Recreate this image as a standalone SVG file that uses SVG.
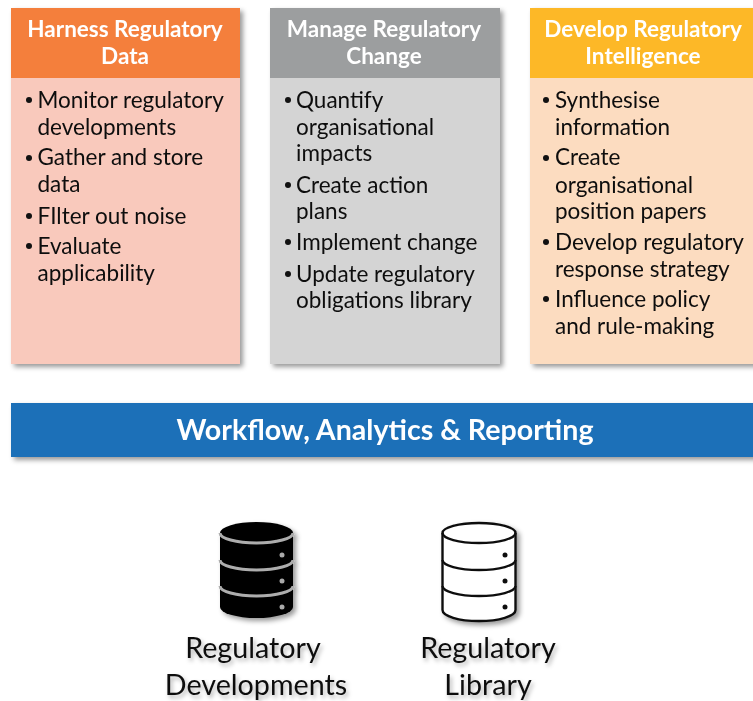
<svg xmlns="http://www.w3.org/2000/svg" width="753" height="701" viewBox="0 0 753 701">
<style>
text{font-family:"Lato","Carlito","Open Sans",sans-serif}
.h{font-size:22.5px;font-weight:700;fill:#fff;text-anchor:middle;filter:url(#soft)}
.b{font-size:22.5px;fill:#0d0d0d;filter:url(#soft)}
.d{fill:#111}
.c{font-size:28.7px;fill:#111;text-anchor:middle;filter:url(#ts)}
.bar{font-size:28.6px;font-weight:700;fill:#fff;text-anchor:middle;filter:url(#soft)}
.o{fill:#fff;stroke:#111;stroke-width:2.4}
</style>
<defs>
<filter id="sh" x="-10%" y="-10%" width="125%" height="125%"><feDropShadow dx="3" dy="3" stdDeviation="2.5" flood-color="#000" flood-opacity=".4"/></filter>
<filter id="ts" x="-10%" y="-20%" width="120%" height="150%"><feGaussianBlur in="SourceGraphic" stdDeviation="0.4" result="s"/><feDropShadow in="s" dx="2" dy="3" stdDeviation="2" flood-color="#000" flood-opacity=".3"/></filter>
<filter id="soft" x="-5%" y="-20%" width="110%" height="140%"><feGaussianBlur stdDeviation="0.4"/></filter>
</defs>
<rect width="753" height="701" fill="#fff"/>
<g id="harness-data">
<rect x="11" y="8" width="229" height="356" fill="#f9c9bc" filter="url(#sh)"/>
<rect x="11" y="8" width="229" height="70" fill="#f47f3c"/>
<text class="h" x="125" y="37">Harness Regulatory</text>
<text class="h" x="125" y="64">Data</text>
<circle class="d" cx="29" cy="100" r="3"/><text class="b" x="37.500" y="108">Monitor regulatory</text>
<text class="b" x="37.500" y="135">developments</text>
<circle class="d" cx="29" cy="158" r="3"/><text class="b" x="37.500" y="165">Gather and store</text>
<text class="b" x="37.500" y="192">data</text>
<circle class="d" cx="29" cy="216" r="3"/><text class="b" x="37.500" y="224">FIlter out noise</text>
<circle class="d" cx="29" cy="246" r="3"/><text class="b" x="37.500" y="254">Evaluate</text>
<text class="b" x="37.500" y="281">applicability</text>
</g>
<g id="manage-change">
<rect x="270" y="8" width="230" height="356" fill="#d4d4d4" filter="url(#sh)"/>
<rect x="270" y="8" width="230" height="70" fill="#9c9e9f"/>
<text class="h" x="384" y="37">Manage Regulatory</text>
<text class="h" x="384" y="64">Change</text>
<circle class="d" cx="288" cy="100" r="3"/><text class="b" x="296" y="108">Quantify</text>
<text class="b" x="296" y="135">organisational</text>
<text class="b" x="296" y="161">impacts</text>
<circle class="d" cx="288" cy="185" r="3"/><text class="b" x="296" y="193">Create action</text>
<text class="b" x="296" y="219">plans</text>
<circle class="d" cx="288" cy="242" r="3"/><text class="b" x="296" y="250">Implement change</text>
<circle class="d" cx="288" cy="274" r="3"/><text class="b" x="296" y="282">Update regulatory</text>
<text class="b" x="296" y="308">obligations library</text>
</g>
<g id="develop-intelligence">
<rect x="530" y="8" width="240" height="356" fill="#fcdcc0" filter="url(#sh)"/>
<rect x="530" y="8" width="230" height="70" fill="#fdb827"/>
<text class="h" x="643" y="37">Develop Regulatory</text>
<text class="h" x="643" y="64">Intelligence</text>
<circle class="d" cx="546" cy="100" r="3"/><text class="b" x="555" y="108">Synthesise</text>
<text class="b" x="555" y="135">information</text>
<circle class="d" cx="546" cy="158" r="3"/><text class="b" x="555" y="165">Create</text>
<text class="b" x="555" y="193">organisational</text>
<text class="b" x="555" y="219">position papers</text>
<circle class="d" cx="546" cy="242" r="3"/><text class="b" x="555" y="250">Develop regulatory</text>
<text class="b" x="555" y="277">response strategy</text>
<circle class="d" cx="546" cy="299" r="3"/><text class="b" x="555" y="307">Influence policy</text>
<text class="b" x="555" y="334">and rule-making</text>
</g>
<g id="workflow-bar">
<rect x="11" y="403" width="760" height="54" fill="#1b6fb8" filter="url(#sh)"/>
<text class="bar" x="385" y="440">Workflow, Analytics &amp; Reporting</text>
</g>
<g id="regulatory-developments">
<g filter="url(#sh)">
<path d="M220 533A36.500 11 0 0 1 293 533V607A36.500 11 0 0 1 220 607Z" fill="#000"/>
<path d="M220 533A36.500 10 0 0 0 293 533M220 560A36.500 10 0 0 0 293 560M220 586A36.500 10 0 0 0 293 586" fill="none" stroke="#adadad" stroke-width="3"/>
<circle cx="282" cy="555" r="2.500" fill="#aaa"/><circle cx="282" cy="581" r="2.500" fill="#aaa"/><circle cx="282" cy="607" r="2.500" fill="#aaa"/>
</g>
<text class="c" x="253" y="658">Regulatory</text>
<text class="c" x="256" y="695">Developments</text>
</g>
<g id="regulatory-library">
<g filter="url(#sh)">
<path class="o" d="M442.500 533A36.500 10 0 0 1 515.500 533V610A36.500 11 0 0 1 442.500 610Z"/>
<path d="M442.500 533A36.500 10 0 0 0 515.500 533M442.500 560A36.500 10 0 0 0 515.500 560M442.500 586A36.500 10 0 0 0 515.500 586" fill="none" stroke="#111" stroke-width="2.400"/>
<circle cx="505" cy="555" r="2.500" fill="#111"/><circle cx="505" cy="581" r="2.500" fill="#111"/><circle cx="505" cy="607" r="2.500" fill="#111"/>
</g>
<text class="c" x="488" y="658">Regulatory</text>
<text class="c" x="488" y="695">Library</text>
</g>
<g id="connectors"/>
</svg>
